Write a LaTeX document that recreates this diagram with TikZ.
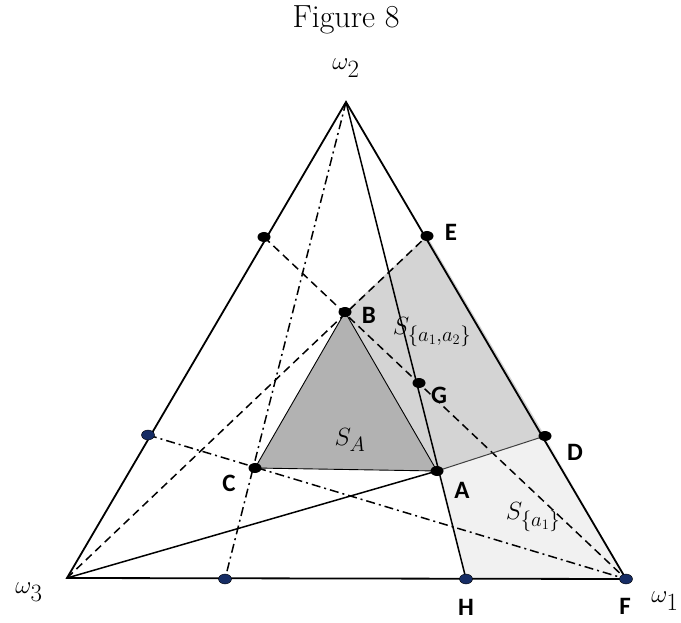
\documentclass[tikz,border=0pt]{standalone}
\usepackage{amsmath}
\usepackage{fontspec}
\newfontfamily\ptfont{Carlito}
\usetikzlibrary{shapes.geometric, positioning, calc}

\definecolor{regdark}{gray}{0.70}
\definecolor{regmid}{gray}{0.83}
\definecolor{reglight}{gray}{0.945}
\definecolor{navydot}{RGB}{22,44,100}

\tikzset{
  bdot/.style={ellipse, fill=black, inner sep=0pt, minimum width=13pt, minimum height=10pt},
  ndot/.style={bdot, fill=navydot, draw=black, line width=0.4pt},
  ptlabel/.style={font=\ptfont\bfseries\fontsize{25}{28}\selectfont},
  mlabel/.style={font=\fontsize{28}{32}\selectfont},
  wlabel/.style={font=\fontsize{36}{40}\selectfont},
  edge/.style={line width=1.8pt},
  dashline/.style={line width=1.5pt, dash pattern=on 8pt off 5pt},
  dotdash/.style={line width=1.5pt, dash pattern=on 9pt off 4pt on 2pt off 4pt},
}

\begin{document}
\begin{tikzpicture}[x=1pt, y=-1pt]
  \useasboundingbox (0,0) rectangle (681,623);

  \coordinate (W2) at (346,102);
  \coordinate (W3) at (67,578);
  \coordinate (F) at (626,579);
  \coordinate (E) at (427,236);
  \coordinate (D) at (545,436);
  \coordinate (B) at (345,312);
  \coordinate (G) at (419,383);
  \coordinate (A) at (437,471);
  \coordinate (C) at (255,468);
  \coordinate (H) at (466,579);
  \coordinate (L1) at (264,237);
  \coordinate (L2) at (148,435);
  \coordinate (M3) at (225,579);

  \fill[reglight] (A) -- (D) -- (F) -- (H) -- cycle;
  \fill[regmid] (B) -- (E) -- (D) -- (A) -- cycle;
  \filldraw[fill=regdark, line width=0.9pt] (A) -- (B) -- (C) -- cycle;

  \draw[edge] (W3) -- (F) -- (W2) -- cycle;
  \draw[dashline] (L1) -- (F);
  \draw[dashline] (W3) -- (E);
  \draw[dotdash] (W2) -- (M3);
  \draw[dotdash] (L2) -- (F);
  \draw[line width=1.5pt] (W2) -- (H);
  \draw[line width=1.5pt] (W3) -- (A);
  \draw[line width=1pt, black!75] (A) -- (D);

  \node[bdot] (Edot) at (E) {};
  \node[bdot] (Ddot) at (D) {};
  \node[bdot] (Bdot) at (B) {};
  \node[bdot] (Gdot) at (G) {};
  \node[bdot] (Adot) at (A) {};
  \node[bdot] (Cdot) at (C) {};
  \node[bdot] (L1dot) at (L1) {};
  \node[ndot] (L2dot) at (L2) {};
  \node[ndot] (M3dot) at (M3) {};
  \node[ndot] (Hdot) at (H) {};
  \node[ndot] (Fdot) at (F) {};

  \node[font=\fontsize{32}{36}\selectfont] (title) at (346,20) {Figure 8};

  \node[wlabel] (w2lbl) at (346,68) {$\omega_2$};
  \node[wlabel] (w3lbl) at (29,592) {$\omega_3$};
  \node[wlabel] (w1lbl) at (665,601) {$\omega_1$};

  \node[mlabel] (SAlbl) at (350,440) {$S_A$};
  \node[mlabel] (S12lbl) at (432,332) {$S_{\{a_1,a_2\}}$};
  \node[mlabel] (S1lbl) at (533,517) {$S_{\{a_1\}}$};

  \node[ptlabel] (Elbl) at (451,232) {E};
  \node[ptlabel] (Blbl) at (369,315) {B};
  \node[ptlabel] (Glbl) at (439,395) {G};
  \node[ptlabel] (Dlbl) at (575,452) {D};
  \node[ptlabel] (Albl) at (462,490) {A};
  \node[ptlabel] (Clbl) at (229,483) {C};
  \node[ptlabel] (Hlbl) at (466,607) {H};
  \node[ptlabel] (Flbl) at (625,606) {F};
\end{tikzpicture}
\end{document}
